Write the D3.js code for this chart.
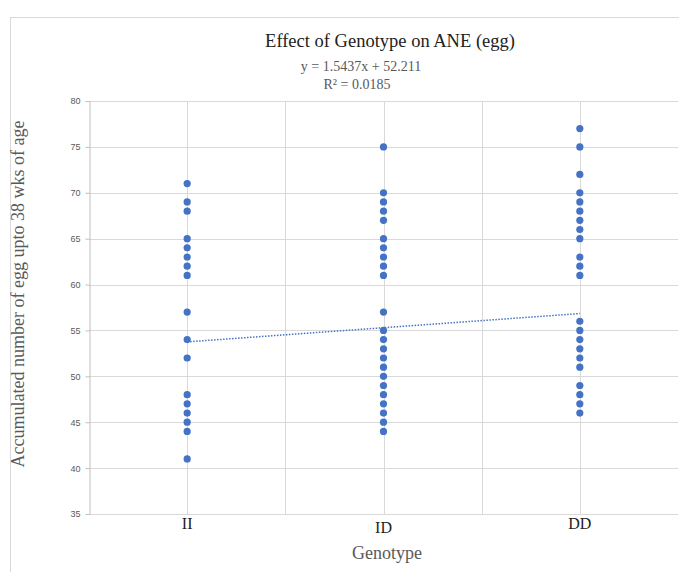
<!DOCTYPE html>
<html>
<head>
<meta charset="utf-8">
<script src="https://cdnjs.cloudflare.com/ajax/libs/d3/7.8.5/d3.min.js"></script>
<style>
  body { margin: 0; background: #fff; }
  svg { display: block; }
</style>
</head>
<body>
<div id="chart"></div>
<script>
// data
var genotypes = ["II", "ID", "DD"];
var eggsII = [71, 69, 68, 65, 64, 63, 62, 61, 57, 54, 52, 48, 47, 46, 45, 44, 41];
var eggsID = [75, 70, 69, 68, 67, 65, 64, 63, 62, 61, 57, 55, 54, 53, 52, 51, 50, 49, 48, 47, 46, 45, 44];
var eggsDD = [77, 75, 72, 70, 69, 68, 67, 66, 65, 63, 62, 61, 56, 55, 54, 53, 52, 51, 49, 48, 47, 46];
var yTicks = [35, 40, 45, 50, 55, 60, 65, 70, 75, 80];
var trendSlope = 1.5437, trendIntercept = 52.211;

var W = 679, H = 572;
var serif = "Liberation Serif, Times New Roman, serif";
var svg = d3.select("#chart").append("svg").attr("width", W).attr("height", H);

// chart area border
svg.append("rect").attr("x", 10.5).attr("y", 17.5).attr("width", 700).attr("height", 600)
    .attr("fill", "none").attr("stroke", "#d9d9d9");

var x = d3.scaleLinear().domain([0.5, 3.5]).range([89, 678]);
var y = d3.scaleLinear().domain([35, 80]).range([514, 101]);

// grid
svg.append("g").selectAll("line").data(yTicks).enter().append("line")
    .attr("x1", x(0.5)).attr("x2", x(3.5))
    .attr("y1", function(d) { return Math.round(y(d)) + 0.5; })
    .attr("y2", function(d) { return Math.round(y(d)) + 0.5; })
    .attr("stroke", "#d9d9d9").attr("stroke-width", 1);
svg.append("g").selectAll("line").data(d3.range(1, 3.5, 0.5)).enter().append("line")
    .attr("x1", function(d) { return Math.round(x(d)) + 0.5; })
    .attr("x2", function(d) { return Math.round(x(d)) + 0.5; })
    .attr("y1", y(80)).attr("y2", y(35))
    .attr("stroke", "#d9d9d9").attr("stroke-width", 1);

// y axis with small outer ticks
var yAxis = d3.axisLeft(y).tickValues(yTicks).tickSize(4).tickSizeOuter(0).tickPadding(5);
var ya = svg.append("g").attr("transform", "translate(" + (Math.round(x(0.5)) + 0.5) + ",0)").call(yAxis);
ya.select(".domain").attr("stroke", "#bfbfbf");
ya.selectAll(".tick line").attr("stroke", "#bfbfbf");
ya.selectAll("text").attr("fill", "#595959").attr("font-size", 9)
    .attr("font-family", "Liberation Sans, Arial, sans-serif");

// x category labels
svg.append("g").selectAll("text").data(genotypes).enter().append("text")
    .attr("x", function(d, i) { return x(i + 1); })
    .attr("y", function(d, i) { return i == 1 ? 533 : 529; })
    .attr("text-anchor", "middle")
    .attr("font-family", serif)
    .attr("font-size", 16).attr("fill", "#222")
    .text(function(d) { return d; });

// trendline
svg.append("line")
    .attr("x1", x(1)).attr("y1", y(trendSlope * 1 + trendIntercept))
    .attr("x2", x(3)).attr("y2", y(trendSlope * 3 + trendIntercept))
    .attr("stroke", "#4472c4").attr("stroke-width", 1.5).attr("stroke-dasharray", "1.5,1.5");

// points
var series = [eggsII, eggsID, eggsDD];
series.forEach(function(vals, i) {
    svg.append("g").selectAll("circle").data(vals).enter().append("circle")
        .attr("cx", x(i + 1))
        .attr("cy", function(d) { return y(d); })
        .attr("r", 3.6)
        .attr("fill", "#4472c4");
});

// titles
svg.append("text").attr("x", 390).attr("y", 47).attr("text-anchor", "middle")
    .attr("font-family", serif)
    .attr("font-size", 18.5).attr("fill", "#222")
    .text("Effect of Genotype on ANE (egg)");
svg.append("text").attr("x", 361).attr("y", 71).attr("text-anchor", "middle")
    .attr("font-family", serif)
    .attr("font-size", 14).attr("fill", "#595959")
    .text("y = 1.5437x + 52.211");
svg.append("text").attr("x", 357).attr("y", 89).attr("text-anchor", "middle")
    .attr("font-family", serif)
    .attr("font-size", 14).attr("fill", "#595959")
    .text("R² = 0.0185");

svg.append("text").attr("x", 387).attr("y", 559).attr("text-anchor", "middle")
    .attr("font-family", serif)
    .attr("font-size", 18).attr("fill", "#595959")
    .text("Genotype");
svg.append("text")
    .attr("transform", "translate(24,294) rotate(-90)")
    .attr("text-anchor", "middle")
    .attr("font-family", serif)
    .attr("font-size", 18).attr("fill", "#595959")
    .text("Accumulated number of egg upto 38 wks of age");
</script>
</body>
</html>
